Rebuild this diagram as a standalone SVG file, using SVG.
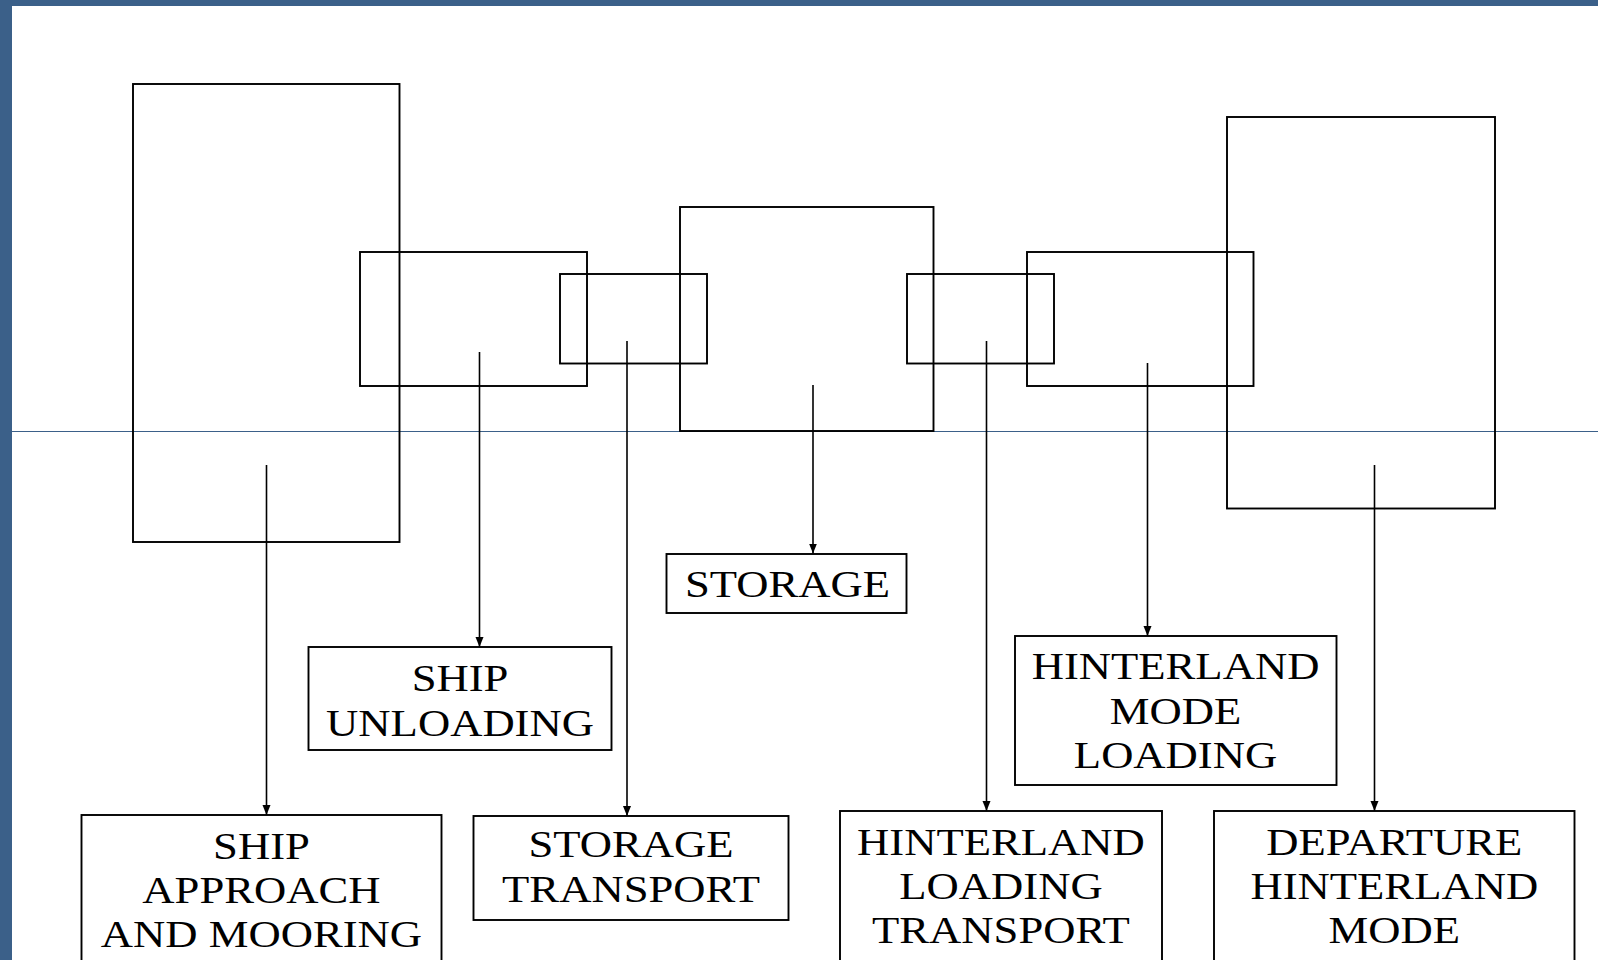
<svg xmlns="http://www.w3.org/2000/svg" width="1598" height="960" viewBox="0 0 1598 960">
<style>
.frame{fill:none;stroke:#000;stroke-width:1.9}
.box{fill:#fff;stroke:#000;stroke-width:1.9}
.conn{stroke:#000;stroke-width:1.6;fill:none}
.lbl{font-family:"Liberation Serif","Times New Roman",serif;font-size:38.5px;fill:#000;text-anchor:middle}
</style>
<defs>
<marker id="ah" markerUnits="userSpaceOnUse" markerWidth="11" markerHeight="9" refX="10" refY="4" orient="auto">
<path d="M0,0 L10,4 L0,8 Z" fill="#000"/>
</marker>
</defs>
<rect x="0" y="0" width="1598" height="960" fill="#fff"/>
<rect x="0" y="0" width="1598" height="6" fill="#3b6089"/>
<rect x="0" y="0" width="12" height="960" fill="#3b6089"/>
<line x1="12" y1="431.5" x2="1598" y2="431.5" stroke="#3b6089" stroke-width="1"/>

<g id="zones">
<rect class="frame" x="133" y="84" width="266.5" height="458"/>
<rect class="frame" x="360" y="252" width="227" height="134"/>
<rect class="frame" x="560" y="274" width="147" height="89.5"/>
<rect class="frame" x="680" y="207" width="253.5" height="224"/>
<rect class="frame" x="907" y="274" width="147" height="89.5"/>
<rect class="frame" x="1027" y="252" width="226.5" height="134"/>
<rect class="frame" x="1227" y="117" width="268" height="391.5"/>
</g>

<g id="connectors">
<line class="conn" x1="266.5" y1="465" x2="266.5" y2="815" marker-end="url(#ah)"/>
<line class="conn" x1="479.5" y1="352" x2="479.5" y2="647" marker-end="url(#ah)"/>
<line class="conn" x1="627" y1="341" x2="627" y2="816" marker-end="url(#ah)"/>
<line class="conn" x1="813" y1="385" x2="813" y2="553.5" marker-end="url(#ah)"/>
<line class="conn" x1="986.5" y1="341" x2="986.5" y2="811" marker-end="url(#ah)"/>
<line class="conn" x1="1147.5" y1="363" x2="1147.5" y2="636" marker-end="url(#ah)"/>
<line class="conn" x1="1374.5" y1="465" x2="1374.5" y2="811" marker-end="url(#ah)"/>
</g>

<g id="node-ship-approach">
<rect class="box" x="81.5" y="815" width="360" height="160"/>
<text class="lbl" transform="scale(1.16 1)"><tspan x="225.4" y="859">SHIP</tspan><tspan x="225.4" y="903">APPROACH</tspan><tspan x="225.4" y="947.5">AND MOORING</tspan></text>
</g>

<g id="node-ship-unloading">
<rect class="box" x="308.5" y="647" width="303" height="103"/>
<text class="lbl" transform="scale(1.16 1)"><tspan x="396.6" y="691.5">SHIP</tspan><tspan x="396.6" y="736.5">UNLOADING</tspan></text>
</g>

<g id="node-storage-transport">
<rect class="box" x="473.5" y="816" width="315" height="104"/>
<text class="lbl" transform="scale(1.16 1)"><tspan x="544" y="857.5">STORAGE</tspan><tspan x="544" y="902.5">TRANSPORT</tspan></text>
</g>

<g id="node-storage">
<rect class="box" x="666.5" y="554" width="240" height="59"/>
<text class="lbl" transform="scale(1.16 1)"><tspan x="678.9" y="597.5">STORAGE</tspan></text>
</g>

<g id="node-hinterland-mode-loading">
<rect class="box" x="1015" y="636" width="321.5" height="149"/>
<text class="lbl" transform="scale(1.16 1)"><tspan x="1013.4" y="679.5">HINTERLAND</tspan><tspan x="1013.4" y="724">MODE</tspan><tspan x="1013.4" y="768">LOADING</tspan></text>
</g>

<g id="node-hinterland-loading-transport">
<rect class="box" x="840" y="811" width="322" height="170"/>
<text class="lbl" transform="scale(1.16 1)"><tspan x="862.9" y="855">HINTERLAND</tspan><tspan x="862.9" y="899">LOADING</tspan><tspan x="862.9" y="943.5">TRANSPORT</tspan></text>
</g>

<g id="node-departure">
<rect class="box" x="1214" y="811" width="360.5" height="170"/>
<text class="lbl" transform="scale(1.16 1)"><tspan x="1202" y="855">DEPARTURE</tspan><tspan x="1202" y="899">HINTERLAND</tspan><tspan x="1202" y="943.5">MODE</tspan></text>
</g>
</svg>
